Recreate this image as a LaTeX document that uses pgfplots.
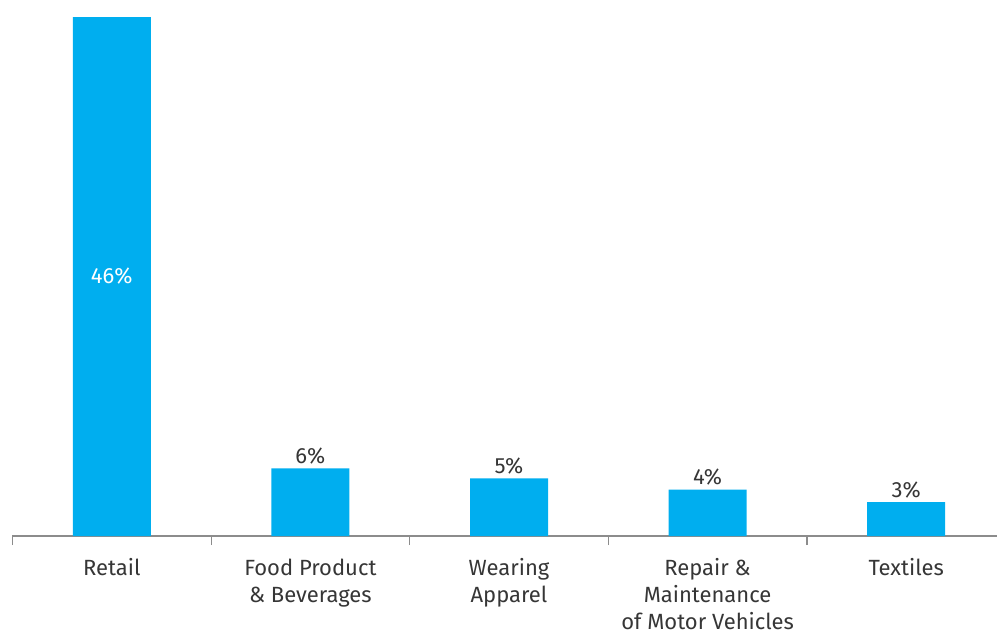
\documentclass[border=0pt]{standalone}
\usepackage{pgfplots}
\pgfplotsset{compat=1.18}
\usepackage{fontspec}
\setmainfont{Fira Sans}
\definecolor{barblue}{HTML}{00AEEF}
\definecolor{txt}{HTML}{363636}
\definecolor{axgray}{HTML}{8C8C8C}
\begin{document}
\begin{tikzpicture}[x=1pt,y=1pt]
\path[use as bounding box] (0,0) rectangle (997,630);
\begin{axis}[
  at={(12.5pt,94pt)}, anchor=south west,
  scale only axis, width=993pt, height=519pt,
  xmin=-0.5, xmax=4.5, ymin=0, ymax=46,
  axis x line*=bottom, axis y line=none,
  x axis line style={axgray, line width=1.5pt, -},
  xtick={0,1,2,3,4},
  xticklabels={{\strut Retail},{\strut Food Product\\\& Beverages},{\strut Wearing\\Apparel},{\strut Repair \&\\Maintenance\\of Motor Vehicles},{\strut Textiles}},
  xticklabel style={font=\fontsize{22}{27}\selectfont, text=txt, align=center, anchor=north, inner sep=0pt, yshift=-20pt},
  major tick length=0pt,
  minor xtick={-0.5,0.5,1.5,2.5,3.5,4.5},
  minor tick length=9pt,
  minor x tick style={axgray, line width=1.2pt},
  tick align=outside,
  clip=false,
  ybar, bar width=78pt,
]
\addplot[fill=barblue, draw=none,
  point meta=explicit symbolic,
  nodes near coords,
  every node near coord/.append style={font=\fontsize{22}{26}\selectfont, text=txt, anchor=base, yshift=5pt, inner sep=0pt}]
  coordinates {(0,46)[] (1,6.0)[6\%] (2,5.1)[5\%] (3,4.1)[4\%] (4,3.0)[3\%]};
\node[text=white, font=\fontsize{22}{26}\selectfont] at (axis cs:0,23) {46\%};
\end{axis}
\end{tikzpicture}
\end{document}
